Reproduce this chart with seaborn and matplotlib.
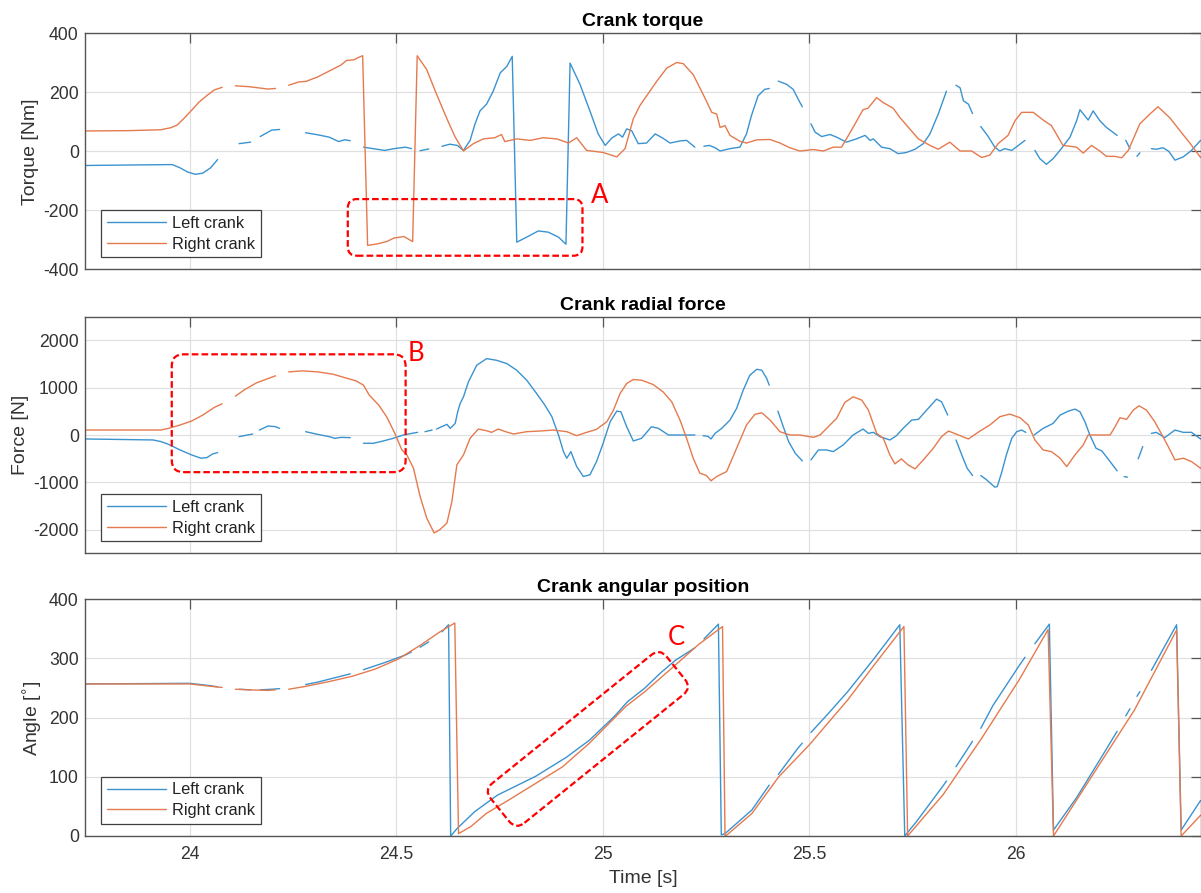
import numpy as np
import pandas as pd
import seaborn as sns
import matplotlib
matplotlib.use("Agg")
import matplotlib.pyplot as plt
from matplotlib.lines import Line2D
from matplotlib.patches import FancyBboxPatch
from matplotlib.transforms import Affine2D, IdentityTransform

# ---------------------------------------------------------------------------
# Measured crank signals: (time [s], value); GAP marks a dropout in the log.
# ---------------------------------------------------------------------------
GAP = None

CRANKS = ["Left crank", "Right crank"]
COLORS = {"Left crank": "#3A93D0", "Right crank": "#E57A4E"}

TIME_TICKS = [24, 24.5, 25, 25.5, 26]
TORQUE_TICKS = [-400, -200, 0, 200, 400]
FORCE_TICKS = [-2000, -1000, 0, 1000, 2000]
ANGLE_TICKS = [0, 100, 200, 300, 400]

TORQUE_LEFT = [
    (23.75, -48), (23.958, -45), (23.977, -56), (23.995, -70), (24.014, -78),
    (24.032, -74), (24.051, -56), (24.068, -28), GAP,
    (24.12, 26), (24.148, 31), GAP,
    (24.171, 50), (24.199, 72), (24.218, 74), GAP,
    (24.281, 63), (24.31, 56), (24.338, 48), (24.361, 33), (24.375, 39), (24.389, 36), GAP,
    (24.421, 14), (24.449, 8), (24.472, 3), (24.495, 9), (24.523, 14), (24.537, 9), GAP,
    (24.558, 2), (24.579, 8), GAP,
    (24.611, 17), (24.63, 24), (24.648, 20), (24.663, 3), (24.679, 37), (24.691, 93),
    (24.703, 137), (24.719, 160), (24.735, 204), (24.752, 266), (24.768, 288),
    (24.781, 322), (24.792, -308), (24.816, -291), (24.844, -270), (24.868, -274),
    (24.893, -291), (24.911, -315), (24.921, 299), (24.945, 227), (24.969, 137),
    (24.989, 59), (25.006, 20), (25.022, 45), (25.038, 59), (25.048, 48),
    (25.058, 76), (25.07, 70), (25.086, 26), (25.106, 28), (25.127, 59),
    (25.145, 45), (25.163, 28), (25.187, 35), (25.203, 37), (25.223, 14), GAP,
    (25.245, 17), (25.258, 20), (25.272, 12), (25.284, 1), (25.308, 9), (25.332, 14),
    (25.348, 59), (25.36, 121), (25.376, 188), (25.392, 210), (25.403, 213), GAP,
    (25.425, 238), (25.445, 227), (25.461, 210), (25.473, 177), (25.483, 151), GAP,
    (25.504, 93), (25.514, 65), (25.53, 50), (25.55, 57), (25.566, 48), (25.59, 31),
    (25.614, 42), (25.635, 54), (25.647, 37), (25.655, 42), (25.675, 14), (25.695, 9),
    (25.715, -8), (25.735, -4), (25.756, 7), (25.776, 26), (25.792, 59),
    (25.812, 126), (25.832, 204), GAP,
    (25.855, 224), (25.865, 215), (25.873, 171), (25.885, 160), (25.895, 128), GAP,
    (25.915, 84), (25.933, 50), (25.949, 14), (25.961, 1), (25.973, 9), (25.99, 3),
    (26.006, 20), (26.022, 37), GAP,
    (26.046, 3), (26.058, -25), (26.074, -44), (26.09, -25), (26.11, 9), (26.131, 48),
    (26.147, 104), (26.155, 141), (26.175, 106), (26.187, 137), (26.203, 104),
    (26.219, 81), (26.245, 54), GAP,
    (26.266, 37), (26.276, 9), GAP,
    (26.293, -17), (26.3, -5), GAP,
    (26.328, 9), (26.34, 7), (26.356, 12), (26.37, 0), (26.385, -30), (26.405, -19),
    (26.425, 3), (26.447, 37),
]

TORQUE_RIGHT = [
    (23.75, 69), (23.85, 70), (23.93, 73), (23.955, 80), (23.97, 89), (23.986, 111),
    (24.005, 139), (24.023, 167), (24.042, 189), (24.06, 208), (24.079, 217), GAP,
    (24.111, 222), (24.144, 219), (24.19, 211), (24.208, 213), GAP,
    (24.24, 224), (24.264, 235), (24.282, 237), (24.31, 252), (24.338, 272),
    (24.366, 292), (24.38, 308), (24.398, 310), (24.407, 317), (24.419, 324),
    (24.431, -319), (24.454, -314), (24.477, -306), (24.495, -294), (24.519, -289),
    (24.54, -306), (24.551, 324), (24.574, 277), (24.598, 193), (24.623, 110),
    (24.643, 48), (24.663, 1), (24.687, 26), (24.711, 42), (24.739, 46), (24.755, 57),
    (24.763, 33), (24.792, 42), (24.824, 37), (24.856, 46), (24.889, 42), (24.917, 28),
    (24.937, 46), (24.961, 3), (25.001, -4), (25.034, -19), (25.054, 9), (25.074, 110),
    (25.09, 155), (25.131, 238), (25.155, 282), (25.179, 301), (25.195, 297),
    (25.219, 260), (25.243, 193), (25.264, 132), (25.276, 126), (25.284, 81),
    (25.296, 87), (25.308, 54), (25.332, 34), (25.348, 28), (25.373, 39), (25.405, 40),
    (25.429, 28), (25.453, 12), (25.477, 1), (25.51, 6), (25.534, 1), (25.558, 14),
    (25.578, 14), (25.606, 81), (25.63, 141), (25.642, 146), (25.663, 182),
    (25.679, 165), (25.703, 146), (25.719, 115), (25.743, 76), (25.764, 42),
    (25.792, 20), (25.812, 7), (25.84, 31), (25.865, 1), (25.893, 1), (25.917, -21),
    (25.937, -13), (25.957, 26), (25.981, 54), (25.998, 104), (26.014, 132),
    (26.042, 132), (26.066, 106), (26.086, 87), (26.114, 20), (26.147, 14),
    (26.163, -6), (26.183, 20), (26.203, 1), (26.219, -17), (26.239, -17),
    (26.256, -22), (26.272, 3), (26.3, 93), (26.324, 126), (26.344, 151),
    (26.373, 113), (26.397, 70), (26.421, 28), (26.447, -21),
]

FORCE_LEFT = [
    (23.75, -84), (23.912, -105), (23.931, -140), (23.949, -197), (23.977, -316),
    (24.005, -421), (24.028, -491), (24.042, -477), (24.056, -400), (24.068, -372), GAP,
    (24.12, -35), (24.153, 21), GAP,
    (24.169, 105), (24.19, 190), (24.208, 176), (24.218, 140), GAP,
    (24.281, 70), (24.31, 14), (24.338, -35), (24.352, -70), (24.366, -50), (24.389, -56), GAP,
    (24.421, -175), (24.445, -175), (24.469, -126), (24.493, -70), (24.518, 0),
    (24.538, 35), (24.552, 56), GAP,
    (24.57, 70), (24.587, 105), GAP,
    (24.598, 126), (24.61, 175), (24.623, 225), (24.631, 140), (24.643, 245),
    (24.649, 490), (24.655, 666), (24.663, 807), (24.675, 1123), (24.695, 1474),
    (24.719, 1614), (24.743, 1579), (24.768, 1509), (24.792, 1368), (24.816, 1158),
    (24.84, 877), (24.86, 631), (24.877, 386), (24.893, 0), (24.905, -351),
    (24.913, -491), (24.923, -351), (24.937, -667), (24.953, -877), (24.969, -842),
    (24.985, -562), (25.001, -175), (25.018, 281), (25.034, 505), (25.044, 490),
    (25.058, 175), (25.074, -126), (25.094, -70), (25.118, 175), (25.135, 140),
    (25.159, 0), (25.187, 0), (25.223, 0), GAP,
    (25.243, -14), (25.255, -30), (25.262, -84), (25.272, 35), (25.288, 140),
    (25.308, 316), (25.324, 561), (25.34, 947), (25.356, 1263), (25.373, 1389),
    (25.385, 1368), (25.397, 1193), (25.403, 1053), GAP,
    (25.424, 505), (25.437, 175), (25.45, -140), (25.466, -386), (25.483, -547), GAP,
    (25.504, -526), (25.522, -316), (25.542, -316), (25.558, -351), (25.582, -210),
    (25.606, 0), (25.63, 126), (25.643, 35), (25.655, 56), (25.671, -35),
    (25.695, -105), (25.711, -14), (25.727, 140), (25.748, 316), (25.764, 330),
    (25.784, 526), (25.808, 758), (25.82, 702), (25.835, 421), GAP,
    (25.855, -105), (25.869, -421), (25.882, -702), (25.895, -856), GAP,
    (25.915, -856), (25.929, -947), (25.949, -1102), (25.955, -1090), (25.965, -807),
    (25.977, -421), (25.99, -70), (26.002, 70), (26.014, 105), (26.024, 56), GAP,
    (26.044, 0), (26.066, 140), (26.09, 245), (26.107, 421), (26.127, 505),
    (26.143, 547), (26.155, 491), (26.167, 281), (26.179, 0), (26.194, -281),
    (26.208, -337), (26.228, -562), (26.245, -758), GAP,
    (26.262, -880), (26.27, -891), GAP,
    (26.296, -505), (26.307, -245), GAP,
    (26.328, 35), (26.34, 56), (26.36, -56), (26.385, 105), (26.405, 56),
    (26.425, 56), (26.447, -84),
]

FORCE_RIGHT = [
    (23.75, 105), (23.93, 105), (23.949, 140), (23.977, 211), (24.005, 295),
    (24.032, 421), (24.06, 583), (24.079, 660), GAP,
    (24.111, 821), (24.134, 962), (24.162, 1102), (24.19, 1193), (24.208, 1250), GAP,
    (24.24, 1334), (24.273, 1355), (24.31, 1334), (24.347, 1285), (24.375, 1214),
    (24.403, 1144), (24.421, 1053), (24.435, 842), (24.458, 632), (24.477, 386),
    (24.495, 70), (24.514, -316), (24.526, -421), (24.542, -702), (24.558, -1298),
    (24.574, -1754), (24.592, -2070), (24.606, -2000), (24.623, -1860),
    (24.635, -1404), (24.647, -632), (24.663, -421), (24.679, -70), (24.699, 126),
    (24.719, 90), (24.731, 56), (24.747, 126), (24.765, 70), (24.784, 21),
    (24.816, 70), (24.848, 84), (24.881, 105), (24.913, 70), (24.937, -14),
    (24.961, 56), (24.985, 119), (25.01, 281), (25.026, 526), (25.042, 877),
    (25.058, 1088), (25.074, 1172), (25.094, 1158), (25.122, 1067), (25.146, 912),
    (25.167, 702), (25.187, 316), (25.203, -70), (25.219, -491), (25.235, -807),
    (25.251, -856), (25.262, -968), (25.276, -877), (25.3, -772), (25.324, -281),
    (25.348, 211), (25.368, 435), (25.385, 470), (25.405, 316), (25.429, 70),
    (25.453, 0), (25.477, 0), (25.51, -49), (25.526, 0), (25.55, 211), (25.566, 351),
    (25.586, 688), (25.606, 807), (25.627, 737), (25.643, 526), (25.663, 35),
    (25.679, -70), (25.695, -421), (25.707, -610), (25.723, -505), (25.739, -632),
    (25.756, -716), (25.776, -526), (25.8, -281), (25.82, -35), (25.837, 84),
    (25.857, 14), (25.885, -84), (25.913, 84), (25.937, 211), (25.961, 386),
    (25.985, 442), (26.01, 365), (26.03, 211), (26.046, -105), (26.066, -316),
    (26.086, -351), (26.107, -491), (26.123, -667), (26.143, -421), (26.163, -210),
    (26.175, 0), (26.228, 0), (26.24, 176), (26.252, 365), (26.268, 330),
    (26.284, 526), (26.298, 617), (26.316, 526), (26.336, 281), (26.356, -35),
    (26.373, -316), (26.385, -526), (26.405, -491), (26.425, -562), (26.447, -702),
]

ANGLE_LEFT = [
    (23.75, 257), (24.0, 258), (24.051, 254), (24.068, 252), GAP,
    (24.12, 248), (24.148, 247), GAP,
    (24.171, 247), (24.199, 248), (24.218, 249), GAP,
    (24.281, 256), (24.31, 260), (24.338, 265), (24.389, 274), GAP,
    (24.421, 281), (24.472, 293), (24.523, 306), (24.537, 311), GAP,
    (24.558, 319), (24.579, 328), GAP,
    (24.611, 345), (24.62, 352), (24.627, 357), (24.632, 0), (24.648, 13),
    (24.69, 41), (24.745, 69), (24.838, 101), (24.912, 133), (24.968, 162),
    (25.028, 202), (25.06, 227), (25.102, 250), (25.139, 275), (25.176, 297),
    (25.223, 318), GAP,
    (25.245, 333), (25.28, 358), (25.287, 2), (25.296, 4), (25.361, 44),
    (25.403, 86), GAP,
    (25.425, 104), (25.472, 148), (25.483, 157), GAP,
    (25.504, 175), (25.546, 207), (25.593, 244), (25.657, 300), (25.719, 357),
    (25.731, 0), (25.759, 24), (25.824, 85), (25.832, 93), GAP,
    (25.855, 117), (25.895, 160), GAP,
    (25.915, 182), (25.944, 220), (26.008, 288), (26.022, 302), GAP,
    (26.046, 325), (26.081, 358), (26.091, 10), (26.148, 66), (26.213, 140),
    (26.245, 177), GAP,
    (26.266, 203), (26.276, 215), GAP,
    (26.293, 236), (26.3, 244), GAP,
    (26.328, 280), (26.389, 357), (26.4, 10), (26.447, 60),
]

ANGLE_RIGHT = [
    (23.75, 257), (24.0, 257), (24.051, 253), (24.079, 251), GAP,
    (24.111, 248), (24.144, 247), (24.19, 246), (24.208, 247), GAP,
    (24.24, 248), (24.282, 253), (24.338, 261), (24.394, 270), (24.449, 282),
    (24.505, 299), (24.56, 323), (24.606, 345), (24.642, 360), (24.651, 4),
    (24.681, 16), (24.718, 38), (24.773, 61), (24.838, 89), (24.903, 117),
    (24.968, 157), (25.056, 219), (25.102, 244), (25.176, 289), (25.231, 323),
    (25.29, 354), (25.296, 0), (25.301, 2), (25.361, 38), (25.426, 100),
    (25.5, 154), (25.593, 230), (25.657, 289), (25.729, 354), (25.738, 0),
    (25.824, 70), (25.917, 165), (26.008, 264), (26.078, 349), (26.091, 0),
    (26.194, 112), (26.287, 213), (26.389, 348), (26.4, 0), (26.447, 35),
]

# Highlight regions: (t_start, t_end, value_low, value_high)
BOX_A = (24.383, 24.951, -354, -162)
BOX_B = (23.957, 24.523, -785, 1705)
# Tilted region C: centre (t, angle), size in pixels, tilt in degrees
BOX_C_CENTER = (24.964, 164)
BOX_C_SIZE = (226, 51)
BOX_C_TILT = 38.9
LABEL_A = (24.993, -150)
LABEL_B = (24.549, 1720)
LABEL_C = (25.177, 335)


def to_frame(pairs, crank):
    rows, seg = [], 0
    for p in pairs:
        if p is GAP:
            seg += 1
            continue
        rows.append({"t": p[0], "v": p[1], "crank": crank, "seg": f"{crank}-{seg}"})
    return pd.DataFrame(rows)


sns.set_theme(style="white")
plt.rcParams["font.family"] = ["Liberation Sans", "DejaVu Sans"]
plt.rcParams["axes.unicode_minus"] = False

W, H = 1201, 893
fig = plt.figure(figsize=(W / 100, H / 100), dpi=100)
fig.patch.set_facecolor("white")


def rect(top, bottom, left=85, right=1201):
    return [left / W, 1 - bottom / H, (right - left) / W, (bottom - top) / H]


ax1 = fig.add_axes(rect(33.3, 269.3))
ax2 = fig.add_axes(rect(316.7, 553.3))
ax3 = fig.add_axes(rect(599.3, 836.0))

panels = [
    (ax1, "Crank torque", "Torque [Nm]", TORQUE_LEFT, TORQUE_RIGHT, (-400, 400), TORQUE_TICKS),
    (ax2, "Crank radial force", "Force [N]", FORCE_LEFT, FORCE_RIGHT, (-2500, 2500), FORCE_TICKS),
    (ax3, "Crank angular position", "Angle [$^{\\circ}$]", ANGLE_LEFT, ANGLE_RIGHT, (0, 400), ANGLE_TICKS),
]

SPINE = "#555555"
TEXT = "#333333"

for i, (ax, title, ylabel, left, right, ylim, yticks) in enumerate(panels):
    df = pd.concat([to_frame(left, CRANKS[0]), to_frame(right, CRANKS[1])], ignore_index=True)
    sns.lineplot(data=df, x="t", y="v", hue="crank", hue_order=CRANKS, palette=COLORS,
                 units="seg", estimator=None, sort=False, legend=False,
                 linewidth=1.0, ax=ax)
    ax.set_xlim(23.747, 26.448)
    ax.set_ylim(*ylim)
    ax.set_xticks(TIME_TICKS)
    ax.set_yticks(yticks)
    ax.xaxis.set_major_formatter(matplotlib.ticker.FormatStrFormatter("%g"))
    ax.grid(True, color="#E0E0E0", linewidth=0.9)
    ax.set_axisbelow(True)
    for s in ax.spines.values():
        s.set_color(SPINE)
        s.set_linewidth(1.0)
    ax.tick_params(axis="both", direction="in", length=7.5, width=0.9, color=SPINE,
                   top=True, right=True, labelsize=12.7, labelcolor=TEXT)
    ax.tick_params(axis="x", pad=7.5)
    ax.tick_params(axis="y", pad=4.5)
    ax.set_title(title, fontsize=14, fontweight="bold", color="black", pad=5)
    ax.set_ylabel(ylabel, fontsize=14, color=TEXT, labelpad=3)
    if i < 2:
        ax.tick_params(axis="x", labelbottom=False)
        ax.set_xlabel("")
    else:
        ax.set_xlabel("Time [s]", fontsize=14, color=TEXT, labelpad=5)

    handles = [Line2D([], [], color=COLORS[c], linewidth=1.0) for c in CRANKS]
    leg = ax.legend(handles, CRANKS, loc="lower left",
                    bbox_to_anchor=(16 / 1116, 12 / 236), borderaxespad=0,
                    frameon=True, fancybox=False, framealpha=1, edgecolor="#404040",
                    fontsize=11.8, handlelength=3.6, handletextpad=0.4,
                    borderpad=0.35, labelspacing=0.35)
    leg.get_frame().set_linewidth(0.9)
    for t in leg.get_texts():
        t.set_color("#222222")

# Dashed highlight boxes drawn in display space so the rounded corners stay round
DASH = dict(fill=False, edgecolor="red", linewidth=1.6, linestyle=(0, (3, 1.4)), zorder=10)


def box_from_data(ax, extent, radius):
    t0, t1, v0, v1 = extent
    (x0, y0), (x1, y1) = ax.transData.transform([(t0, v0), (t1, v1)])
    p = FancyBboxPatch((x0, y0), x1 - x0, y1 - y0,
                       boxstyle=f"round,pad=0,rounding_size={radius}",
                       transform=IdentityTransform(), **DASH)
    fig.add_artist(p)


box_from_data(ax1, BOX_A, 9)
box_from_data(ax2, BOX_B, 12)

cx, cy = ax3.transData.transform([BOX_C_CENTER])[0]
w, h = BOX_C_SIZE
pc = FancyBboxPatch((cx - w / 2, cy - h / 2), w, h,
                    boxstyle="round,pad=0,rounding_size=11",
                    transform=Affine2D().rotate_deg_around(cx, cy, BOX_C_TILT) + IdentityTransform(),
                    **DASH)
fig.add_artist(pc)

for ax, pos, txt in [(ax1, LABEL_A, "A"), (ax2, LABEL_B, "B"), (ax3, LABEL_C, "C")]:
    ax.text(pos[0], pos[1], txt, color="red", fontsize=18.5, family=["Lato", "DejaVu Sans"],
            ha="center", va="center", zorder=11, clip_on=False)

fig.savefig("out.png", dpi=100, facecolor="white")
